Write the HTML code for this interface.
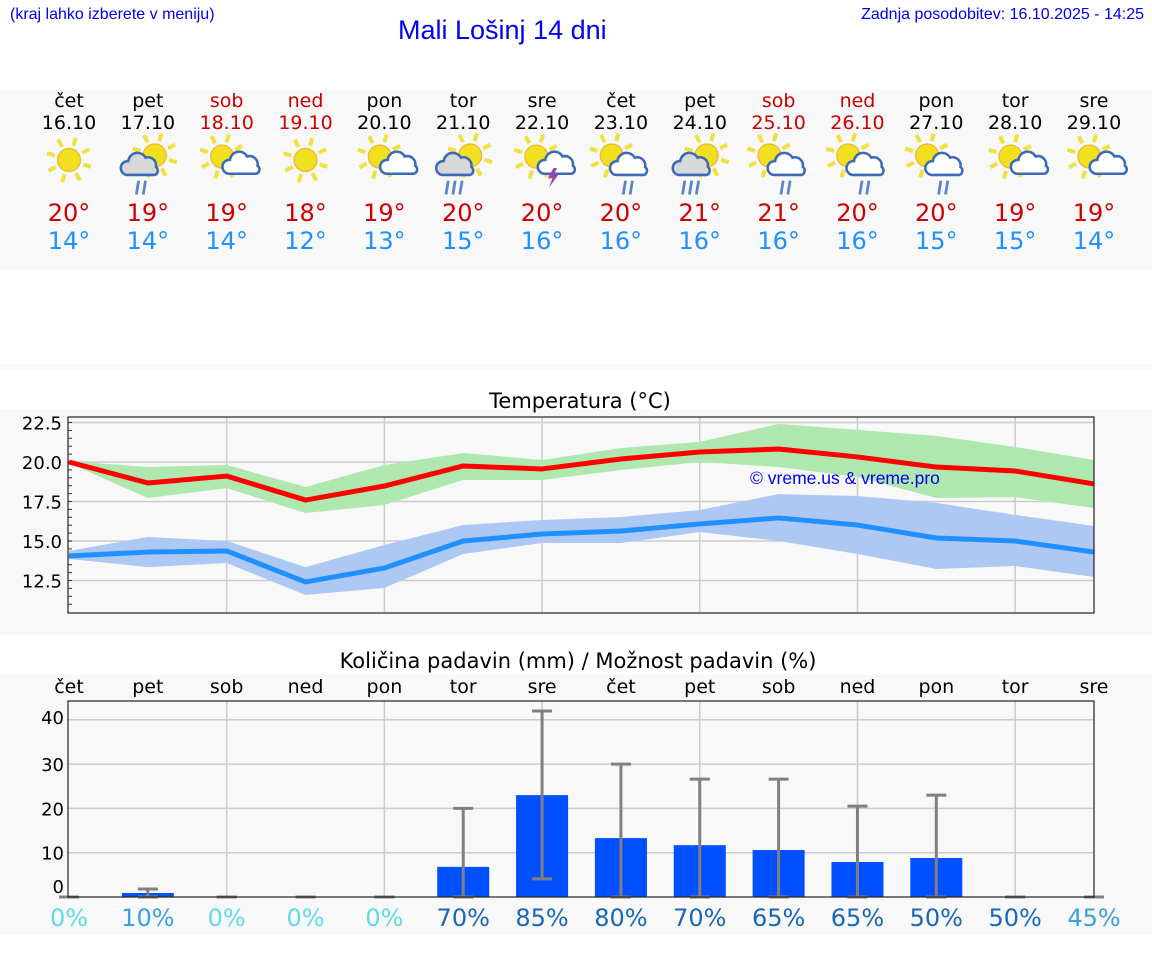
<!DOCTYPE html>
<html><head><meta charset="utf-8">
<style>
body{margin:0;width:1152px;height:975px;background:#fff;font-family:"DejaVu Sans","Liberation Sans",sans-serif;position:relative;overflow:hidden}
.a{position:absolute}
</style></head><body>
<div class="a" style="left:10px;top:6px;font-size:16px;color:#0000ee;font-family:'Liberation Sans',sans-serif">(kraj lahko izberete v meniju)</div>
<div class="a" style="left:398px;top:15px;font-size:27px;color:#0000ee;font-family:'Liberation Sans',sans-serif">Mali Lošinj 14 dni</div>
<div class="a" style="right:8px;top:6px;font-size:16px;color:#0000ee;font-family:'Liberation Sans',sans-serif">Zadnja posodobitev: 16.10.2025 - 14:25</div>
<div class="a" style="left:0;top:90px;width:1152px;height:180px;background:#f8f8f8"></div>
<div class="a" style="left:0;top:364px;width:1152px;height:6px;background:#f8f8f8"></div>
<div class="a" style="left:0;top:409px;width:1152px;height:226px;background:#f8f8f8"></div>
<div class="a" style="left:0;top:675px;width:1152px;height:260px;background:#f8f8f8"></div>
<svg class="a" style="left:0;top:0" width="1152" height="975" id="svg"></svg>
<script>
const dayNames=["čet","pet","sob","ned","pon","tor","sre","čet","pet","sob","ned","pon","tor","sre"];
const dates=["16.10","17.10","18.10","19.10","20.10","21.10","22.10","23.10","24.10","25.10","26.10","27.10","28.10","29.10"];
const icons=["sun","showers","suncloud","sun","suncloud","heavy","storm","cloudrain","heavy","cloudrain","cloudrain","cloudrain","suncloud","suncloud"];
const highs=[20,19,19,18,19,20,20,20,21,21,20,20,19,19];
const lows=[14,14,14,12,13,15,16,16,16,16,16,15,15,14];
const tMax=[20.0,18.67,19.11,17.59,18.48,19.75,19.56,20.19,20.63,20.82,20.32,19.68,19.43,18.61];
const tMaxHi=[20.06,19.68,19.81,18.42,19.81,20.57,20.13,20.89,21.27,22.41,22.03,21.65,20.95,20.13];
const tMaxLo=[19.94,17.72,18.35,16.77,17.28,18.86,18.86,19.49,20.0,19.68,19.05,17.72,17.78,17.09];
const tMin=[14.05,14.30,14.37,12.41,13.29,15.0,15.44,15.63,16.08,16.46,16.01,15.19,15.0,14.30];
const tMinHi=[14.37,15.25,15.0,13.35,14.75,16.01,16.33,16.52,16.96,17.97,17.85,17.41,16.65,15.95];
const tMinLo=[13.86,13.35,13.61,11.58,12.03,14.18,14.87,14.87,15.57,15.0,14.18,13.23,13.42,12.72];
const tTicks=[12.5,15.0,17.5,20.0,22.5];
const rain=[0,0.9,0,0,0,6.8,23.0,13.3,11.7,10.6,7.9,8.8,0,0];
const rainLo=[0,0,0,0,0,0,4.1,0,0,0,0,0,0,0];
const rainHi=[0,1.8,0,0,0,20,42,30,26.6,26.6,20.5,23,0,0];
const prob=[0,10,0,0,0,70,85,80,70,65,65,50,50,45];
const rTicks=[0,10,20,30,40];

const NS="http://www.w3.org/2000/svg";
const svg=document.getElementById('svg');
function mk(tag,at,parent){const e=document.createElementNS(NS,tag);for(const k in at)e.setAttribute(k,at[k]);(parent||svg).appendChild(e);return e;}
const X=i=>69+i*(1094-69)/13;
const weekend=d=>d==="sob"||d==="ned";

for(let i=0;i<14;i++){
  const c=X(i),col=weekend(dayNames[i])?"#cc0000":"#000";
  let t=mk('text',{x:c,y:107,'text-anchor':'middle','font-size':19,fill:col});t.textContent=dayNames[i];
  
  
  t=mk('text',{x:c,y:129,'text-anchor':'middle','font-size':19,fill:col});t.textContent=dates[i];
  
  
  const g=mk('g',{transform:`translate(${c},160) scale(1.15)`});
  
  
  drawIcon(g,icons[i]);
  t=mk('text',{x:c,y:221,'text-anchor':'middle','font-size':24,fill:'#cc0000'});t.textContent=highs[i]+"°";
  
  
  t=mk('text',{x:c,y:249,'text-anchor':'middle','font-size':24,fill:'#2090ff'});t.textContent=lows[i]+"°";
  
  
}
function sun(g,dx,dy,r){
  for(let k=0;k<8;k++){const a=k*Math.PI/4+0.3;mk('line',{x1:dx+Math.cos(a)*(r+3),y1:dy+Math.sin(a)*(r+3),x2:dx+Math.cos(a)*(r+10),y2:dy+Math.sin(a)*(r+10),stroke:'#f0e040','stroke-width':3.5},g);}
  mk('circle',{cx:dx,cy:dy,r:r,fill:'#f0e020',stroke:'#f0b030','stroke-width':1},g);
}
function cloud(g,dx,dy,s,fill){
  mk('path',{d:`M${dx-12*s} ${dy+7*s} a6 6 0 0 1 1 -12 a8 8 0 0 1 15 -3 a7 7 0 0 1 9 8 a4 4 0 0 1 -1 7 z`,fill:fill,stroke:'#3a6ab8','stroke-width':2.2},g);
}
function drops(g,dx,dy,n){for(let k=0;k<n;k++)mk('line',{x1:dx+k*6,y1:dy,x2:dx+k*6-2,y2:dy+12,stroke:'#5a85c8','stroke-width':2.4},g);}
function drawIcon(g,type){
  if(type==="sun"){sun(g,0,0,10);}
  else if(type==="suncloud"){sun(g,-4,-3,10);cloud(g,12,6,0.85,'#fff');}
  else if(type==="storm"){sun(g,-5,-3,10);cloud(g,12,6,0.85,'#fff');mk('path',{d:'M10 7 l-5 9 h4 l-3 8 l8 -11 h-4 l3 -6z',fill:'#a040a0'},g);}
  else if(type==="cloudrain"){sun(g,-8,-4,10);cloud(g,8,6,1,'#fff');drops(g,4,18,2);}
  else if(type==="showers"){sun(g,6,-4,10);cloud(g,-6,6,1,'#d8d8d8');drops(g,-8,18,2);}
  else if(type==="heavy"){sun(g,6,-4,10);cloud(g,-6,6,1,'#d8d8d8');drops(g,-13,18,3);}
}

const tx0=68,tx1=1094,ty0=417,ty1=613;
const TY=v=>462-(v-20)*15.8;
let t=mk('text',{x:580,y:408,'text-anchor':'middle','font-size':21,fill:'#000'});t.textContent="Temperatura (°C)";


mk('rect',{x:tx0,y:ty0,width:tx1-tx0,height:ty1-ty0,fill:'#f8f8f8'});
for(let i=2;i<13;i+=2)mk('line',{x1:X(i),x2:X(i),y1:ty0,y2:ty1,stroke:'#ccc','stroke-width':1.5});
tTicks.forEach(v=>{mk('line',{x1:tx0,x2:tx1,y1:TY(v),y2:TY(v),stroke:'#ccc','stroke-width':1.5});
  const l=mk('text',{x:62,y:TY(v)+7,'text-anchor':'end','font-size':18,fill:'#000'});l.textContent=v.toFixed(1);
  
  });
for(let v=11;v<=22.5;v+=0.5)mk('line',{x1:tx0,x2:tx0+4,y1:TY(v),y2:TY(v),stroke:'#333'});
function band(hi,lo,fill,name){let d='';hi.forEach((v,i)=>d+=(i?'L':'M')+X(i)+' '+TY(v));for(let i=lo.length-1;i>=0;i--)d+='L'+X(i)+' '+TY(lo[i]);
  const p=mk('path',{d:d+'Z',fill:fill});}
function line(v,col,name){const p=mk('polyline',{points:v.map((y,i)=>X(i)+','+TY(y)).join(' '),fill:'none',stroke:col,'stroke-width':5,'stroke-linejoin':'round'});}
band(tMaxHi,tMaxLo,'#aee8ae','max-temp-range');
band(tMinHi,tMinLo,'#aec8f4','min-temp-range');
line(tMax,'#ff0000','max-temp-line');
line(tMin,'#2090ff','min-temp-line');
mk('rect',{x:tx0,y:ty0,width:tx1-tx0,height:ty1-ty0,fill:'none',stroke:'#222','stroke-width':1.2});
t=mk('text',{x:750,y:484,'font-size':17.5,fill:'#0000ee','font-family':'Liberation Sans'});t.textContent="© vreme.us & vreme.pro";



const py0=701,py1=897;
const RY=v=>897-v*4.43;
t=mk('text',{x:578,y:668,'text-anchor':'middle','font-size':21,fill:'#000'});t.textContent="Količina padavin (mm) / Možnost padavin (%)";


for(let i=0;i<14;i++){const l=mk('text',{x:X(i),y:693,'text-anchor':'middle','font-size':19,fill:'#000'});l.textContent=dayNames[i];
  
  }
mk('rect',{x:tx0,y:py0,width:tx1-tx0,height:py1-py0,fill:'#f8f8f8'});
for(let i=2;i<13;i+=2)mk('line',{x1:X(i),x2:X(i),y1:py0,y2:py1,stroke:'#ccc','stroke-width':1.5});
rTicks.forEach(v=>{if(v>0)mk('line',{x1:tx0,x2:tx1,y1:RY(v),y2:RY(v),stroke:'#ccc','stroke-width':1.5});
  const l=mk('text',{x:64,y:(v?RY(v)+7:893)-(v==40?3:0),'text-anchor':'end','font-size':18,fill:'#000'});l.textContent=v;
  
  });
for(let i=0;i<14;i++){
  if(rain[i]>0){const b=mk('rect',{x:X(i)-26,y:RY(rain[i]),width:52,height:RY(0)-RY(rain[i]),fill:'#0050ff'});
    
    }
  const e=mk('g',{stroke:'#808080','stroke-width':3});
  
  
  mk('line',{x1:X(i),x2:X(i),y1:RY(rainLo[i]),y2:RY(rainHi[i])},e);
  mk('line',{x1:X(i)-10,x2:X(i)+10,y1:RY(rainHi[i]),y2:RY(rainHi[i])},e);
  mk('line',{x1:X(i)-10,x2:X(i)+10,y1:RY(rainLo[i]),y2:RY(rainLo[i])},e);
  const p=prob[i],col=p==0?'#5edbe8':p<=45?'#3aa0dc':'#1a66b8';
  const l=mk('text',{x:X(i),y:926,'text-anchor':'middle','font-size':24,fill:col});l.textContent=p+"%";
  
  
}
mk('rect',{x:tx0,y:py0,width:tx1-tx0,height:py1-py0,fill:'none',stroke:'#222','stroke-width':1.2});
</script>
</body></html>
